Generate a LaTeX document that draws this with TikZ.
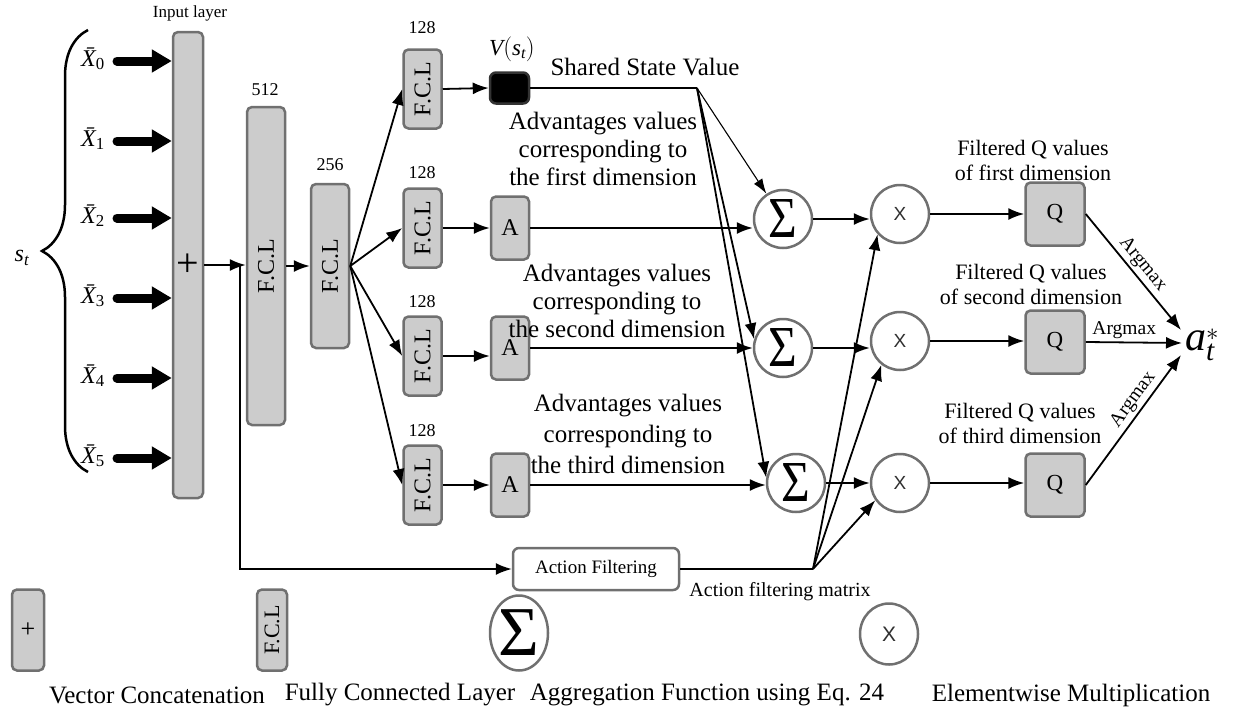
\documentclass[tikz,border=0pt]{standalone}
\usepackage{amsmath}
\usepackage{fontspec}
\setmainfont{Liberation Serif}
\newfontfamily\sansfam{Liberation Sans}
\usepackage{graphicx}
\usetikzlibrary{arrows.meta,decorations.pathreplacing,shapes.geometric,calc}

\definecolor{boxfill}{RGB}{204,204,204}
\definecolor{boxline}{RGB}{112,112,112}
\definecolor{opmark}{RGB}{48,48,48}

% italic text letters inside math, so symbols share the serif of the labels
\newcommand\itl[1]{\text{\itshape #1}}
\newcommand\xbar[1]{$\itl{\={X}}_{\text{#1}}$}

\begin{document}
\begin{tikzpicture}[x=1pt,y=-1pt,
  layer/.style={draw=boxline, line width=2.5pt, fill=boxfill, rounded corners=5pt, inner sep=0pt},
  fclbox/.style={layer, minimum width=38pt, font=\fontsize{24}{24}\selectfont},
  smallfcl/.style={fclbox, minimum height=79pt},
  abox/.style={layer, minimum width=38pt, minimum height=63pt, font=\fontsize{24}{24}\selectfont},
  qbox/.style={layer, minimum width=59pt, minimum height=63pt, font=\fontsize{23}{23}\selectfont},
  sumop/.style={circle, draw=boxline, line width=2.5pt, fill=white, minimum size=58pt, inner sep=0pt},
  mulop/.style={sumop, font=\sansfam\fontsize{19}{19}\selectfont\color{opmark}},
  conn/.style={line width=1.8pt, -{Latex[length=16pt,width=12pt]}},
  thinconn/.style={line width=1.1pt, -{Latex[length=15pt,width=10pt]}},
  feed/.style={line width=9pt, line cap=round, -{Triangle[length=20pt,width=22pt]}},
  txtbig/.style={font=\fontsize{25}{28}\selectfont, inner sep=0pt},
  txtmid/.style={font=\fontsize{22}{25}\selectfont, inner sep=0pt},
  txtsmall/.style={font=\fontsize{18}{20}\selectfont, inner sep=0pt},
  argm/.style={font=\fontsize{19.5}{21}\selectfont, inner sep=2.5pt},
]
\useasboundingbox (0,0) rectangle (1238,712);

% ---------- input vectors and the state brace ----------
\draw[line width=2.5pt, decorate, decoration={brace, amplitude=46pt, aspect=0.5}]
  (88,472) -- (88,30);
\node[txtmid, font=\fontsize{24}{24}\selectfont] (st) at (22,258) {$\itl{s}_{\itl{t}}$};

\node[layer, minimum width=30pt, minimum height=466pt] (inp) at (188,265)
  {\fontsize{40}{40}\selectfont +};
\node[font=\fontsize{17}{20}\selectfont, inner sep=0pt] (inlab) at (190,13) {Input layer};

\foreach \i/\yy in {0/61,1/141,2/218,3/298,4/378,5/458}{
  \node[font=\fontsize{24}{24}\selectfont, inner sep=0pt] (x\i) at (93,\yy-2) {\xbar{\i}};
  \coordinate (xin\i) at (inp.west |- 0,\yy);
  \draw[feed] (117,\yy) -- (xin\i);
}

% ---------- shared trunk ----------
\node[fclbox, minimum height=318pt] (f512) at (266,266) {\rotatebox{90}{F.C.L}};
\node[txtsmall] (l512) at (265,90) {512};
\node[fclbox, minimum height=164pt] (f256) at (330,266) {\rotatebox{90}{F.C.L}};
\node[txtsmall] (l256) at (330,165) {256};

\draw[conn] (inp.east) -- (inp.east -| f512.west);
\draw[conn] (f512.east) -- (f512.east -| f256.west);

% ---------- four heads ----------
\node[smallfcl] (h1) at (422.5,89)  {\rotatebox{90}{F.C.L}};
\node[smallfcl] (h2) at (422.5,228) {\rotatebox{90}{F.C.L}};
\node[smallfcl] (h3) at (422.5,356) {\rotatebox{90}{F.C.L}};
\node[smallfcl] (h4) at (422.5,485) {\rotatebox{90}{F.C.L}};
\node[txtsmall] (lh1) at (422,28)  {128};
\node[txtsmall] (lh2) at (422,173) {128};
\node[txtsmall] (lh3) at (422,302) {128};
\node[txtsmall] (lh4) at (422,431) {128};

\foreach \h in {h1,h2,h3,h4}{ \draw[conn] (f256.east) -- (\h.west); }

\node[layer, fill=black, draw=black!80, minimum width=39pt, minimum height=31pt, rounded corners=6pt] (v) at (509.5,88) {};
\node[font=\fontsize{23}{23}\selectfont, inner sep=0pt] (vlab) at (512,49) {$\itl{V}(\itl{s}_{\itl{t}})$};

\node[abox] (a1) at (510,228) {A};
\node[abox] (a2) at (510,348) {A};
\node[abox] (a3) at (510,485) {A};

\draw[conn] (h1.east) -- (v.west);
\draw[conn] (h2.east) -- (a1.west);
\draw[conn] (h3.east) -- (h3.east -| a2.west);
\draw[conn] (h4.east) -- (a3.west);

\node[txtbig] (svlab) at (645,67) {Shared State Value};
\node[txtbig, align=center] (adv1) at (603,149) {Advantages values\\corresponding to\\the first dimension};
\node[txtbig, align=center] (adv2) at (617,301) {Advantages values\\corresponding to\\the second dimension};
\node[font=\fontsize{25}{31}\selectfont, inner sep=0pt, align=center] (adv3) at (628,434) {Advantages values\\corresponding to\\the third dimension};

% ---------- aggregation ----------
\node[sumop] (s1) at (783,219) {\scalebox{0.85}[1]{\fontsize{58}{58}\selectfont Σ}};
\node[sumop] (s2) at (783,348) {\scalebox{0.85}[1]{\fontsize{58}{58}\selectfont Σ}};
\node[sumop] (s3) at (796,483) {\scalebox{0.85}[1]{\fontsize{58}{58}\selectfont Σ}};

\coordinate (sh) at (697,88);
\draw[line width=1.8pt] (v.east) -- (sh);
\draw[thinconn] (sh) -- (s1);
\draw[conn] (sh) -- (s2.163);
\draw[conn] (sh) -- (s3.170);

\draw[conn] (a1.east) -- (a1.east -| s1.west);
\draw[conn] (a2.east) -- (s2.west);
\draw[conn] (a3.east) -- (a3.east -| s3.west);

% ---------- action filtering ----------
\node[mulop] (m1) at (900,214) {X};
\node[mulop] (m2) at (900,341) {X};
\node[mulop] (m3) at (900,483) {X};

\draw[conn] (s1.east) -- (s1.east -| m1.west);
\draw[conn] (s2.east) -- (s2.east -| m2.west);
\draw[conn] (s3.east) -- (s3.east -| m3.west);

\node[draw=boxline, line width=2.5pt, fill=white, rounded corners=6pt, minimum width=166pt, minimum height=42pt,
      font=\fontsize{19}{19}\selectfont, inner sep=0pt] (af) at (596,569) {Action Filtering};
\coordinate (split) at (240,265);
\draw[line width=1.6pt, -{Latex[length=16pt,width=12pt]}] (split) |- (af.west);

\coordinate (am) at (813,569);
\draw[line width=1.8pt] (af.east) -- (am);
\draw[conn] (am) -- (m1.222);
\draw[conn] (am) -- (m2.232);
\draw[conn] (am) -- (m3.215);
\node[font=\fontsize{20}{20}\selectfont, inner sep=0pt] (amlab) at (780,592) {Action filtering matrix};

% ---------- filtered Q values and the action ----------
\node[qbox] (q1) at (1055,214) {Q};
\node[qbox] (q2) at (1055,342) {Q};
\node[qbox] (q3) at (1055,485) {Q};

\draw[conn] (m1.east) -- (m1.east -| q1.west);
\draw[conn] (m2.east) -- (m2.east -| q2.west);
\draw[conn] (m3.east) -- (m3.east -| q3.west);

\node[txtmid, align=center] (fq1) at (1033,160) {Filtered Q values\\of first dimension};
\node[txtmid, align=center] (fq2) at (1031,284) {Filtered Q values\\of second dimension};
\node[txtmid, align=center] (fq3) at (1020,423) {Filtered Q values\\of third dimension};

\node[anchor=west, inner sep=0pt, font=\fontsize{42}{42}\selectfont] (astar) at (1185,345) {$\itl{a}^{*}_{\itl{t}}$};

\draw[conn] (q1.east) -- node[sloped, above, argm, pos=0.5] {Argmax} ($(astar.west)+(-4,-15)$);
\draw[conn] (q2.east) -- node[above, argm, pos=0.4] {Argmax} ($(astar.west)+(-3,-2)$);
\draw[conn] (q3.east) -- node[sloped, above, argm, pos=0.6] {Argmax} ($(astar.west)+(-4,10)$);

% ---------- legend ----------
\node[layer, minimum width=32pt, minimum height=81pt, font=\fontsize{26}{26}\selectfont] (lgplus) at (28,630) {+};
\node[fclbox, minimum width=30pt, minimum height=81pt, font=\fontsize{22}{22}\selectfont] (lgfcl) at (272,630) {\rotatebox{90}{F.C.L}};
\node[ellipse, draw=boxline, line width=2.5pt, fill=white, minimum width=58pt, minimum height=75pt, inner sep=0pt] (lgsum) at (519,633)
  {\fontsize{70}{70}\selectfont Σ};
\node[ellipse, draw=boxline, line width=2.5pt, fill=white, minimum width=58pt, minimum height=61pt, inner sep=0pt,
      font=\sansfam\fontsize{21}{21}\selectfont\color{opmark}] (lgmul) at (889,634) {X};

\node[txtbig] (lt1) at (157,695) {Vector Concatenation};
\node[txtbig] (lt2) at (400,695) {Fully Connected Layer};
\node[txtbig] (lt3) at (707,695) {Aggregation Function using Eq. 24};
\node[txtbig] (lt4) at (1071,695) {Elementwise Multiplication};
\end{tikzpicture}
\end{document}
